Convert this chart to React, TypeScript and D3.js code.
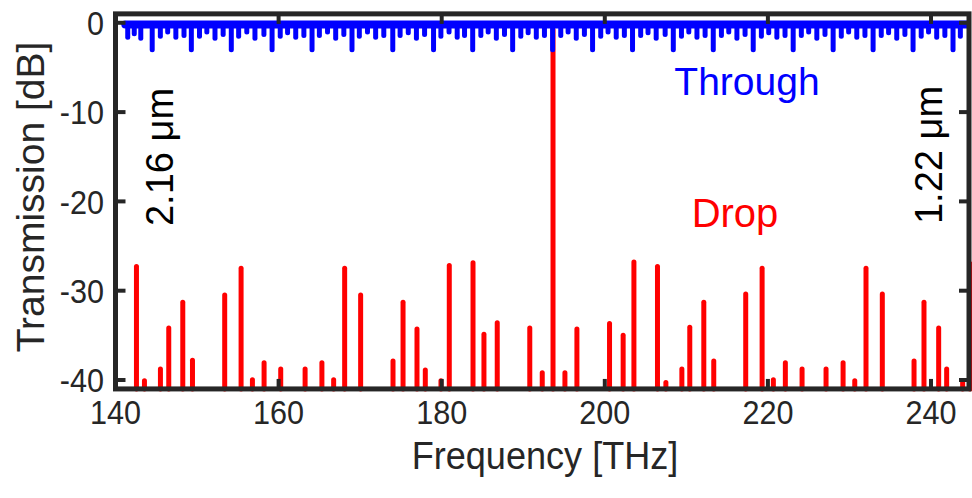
import React from "react";
import * as d3 from "d3";

// ---- data ----
const xTicks = [140, 160, 180, 200, 220, 240];
const yTicks = [0, -10, -20, -30, -40];

// Drop port: resonance frequency [THz] and peak transmission [dB]
const dropFreq = [
  142.57, 143.55, 145.51, 146.53, 148.25, 149.44, 153.39, 155.4, 156.79, 158.22,
  160.26, 163.25, 165.31, 166.75, 168.1, 170.06, 174.03, 175.26, 176.97, 177.99,
  179.91, 180.93, 183.84, 185.18, 186.81, 190.8, 192.33, 193.65, 195.11, 196.58,
  200.58, 202.25, 203.57, 206.46, 207.49, 209.45, 210.42, 212.14, 213.36, 217.28,
  219.29, 220.67, 222.14, 224.19, 227.13, 229.22, 230.65, 232.03, 234.03, 237.92,
  239.14, 240.94, 241.92, 243.88, 244.78,
];
const dropDb = [
  -27.0, -39.8, -38.5, -33.9, -31.0, -37.5, -30.2, -27.2, -39.7, -37.8,
  -38.5, -38.5, -37.8, -39.7, -27.2, -30.2, -37.6, -31.0, -34.0, -38.6,
  -39.8, -26.9, -26.6, -34.6, -33.3, -33.9, -38.9, -0.5, -38.9, -34.0,
  -33.4, -34.7, -26.5, -27.0, -40.0, -38.5, -33.8, -31.0, -37.6, -30.1,
  -27.2, -39.7, -37.8, -38.5, -38.5, -37.8, -39.8, -27.2, -30.1, -37.6,
  -31.0, -33.9, -38.5, -39.8, -26.7,
];

// Through port: dip frequency [THz] and dip depth [dB]
const throughFreq = [
  141.5, 142.3, 143.1, 144.5, 145.5, 146.4, 147.4, 148.4,
  149.3, 150.3, 151.2, 152.2, 153.2, 154.2, 155.1, 156.1, 157.1, 158.2,
  159.2, 160.2, 161.1, 162.1, 163.1, 164.1, 165.0, 166.0, 167.0, 168.0,
  169.0, 169.9, 170.9, 171.9, 172.9, 174.0, 174.9, 175.9, 176.9, 177.9,
  179.0, 179.9, 180.9, 181.9, 182.8, 183.8, 184.8, 185.7, 186.7, 187.7,
  188.7, 189.7, 190.6, 191.6, 192.6, 193.6, 194.6, 195.5, 196.5, 197.5,
  198.5, 199.5, 200.4, 201.4, 202.4, 203.4, 204.4, 205.3, 206.3, 207.4,
  208.4, 209.4, 210.3, 211.3, 212.3, 213.3, 214.3, 215.2, 216.2, 217.2,
  218.2, 219.2, 220.1, 221.1, 222.1, 223.1, 224.1, 225.0, 226.0, 227.0,
  228.0, 229.0, 229.9, 230.9, 231.9, 232.9, 233.9, 234.8, 235.8, 236.8,
  237.8, 238.8, 239.7, 240.7, 241.7, 242.7, 243.6,
];
const throughDb = [
  -1.9, -1.5, -2.0, -3.3, -1.8, -1.3, -1.9, -1.7,
  -3.3, -1.8, -1.3, -2.0, -1.6, -3.3, -1.8, -1.3, -2.0, -1.6,
  -3.3, -1.8, -1.4, -1.9, -1.7, -3.3, -1.7, -1.3, -2.0, -1.6,
  -3.3, -1.8, -1.3, -1.9, -1.7, -3.3, -1.7, -1.4, -2.0, -1.6,
  -3.3, -1.8, -1.3, -1.9, -1.7, -3.3, -1.7, -1.3, -2.0, -1.6,
  -3.3, -1.8, -1.4, -1.9, -1.7, -3.3, -1.7, -1.3, -2.0, -1.6,
  -3.3, -1.8, -1.3, -1.9, -1.7, -3.3, -1.7, -1.4, -2.0, -1.6,
  -3.3, -1.8, -1.3, -1.9, -1.7, -3.3, -1.7, -1.3, -2.0, -1.6,
  -3.3, -1.8, -1.4, -1.9, -1.7, -3.3, -1.7, -1.3, -2.0, -1.6,
  -3.3, -1.8, -1.3, -1.9, -1.7, -3.3, -1.7, -1.4, -2.0, -1.6,
  -3.3, -1.8, -1.3, -1.9, -1.7, -3.3, -1.8,
];
const throughStart = 141.2;
const throughEnd = 244.4;

const W = 972;
const H = 498;
const FONT = "Arial, 'Liberation Sans', Helvetica, sans-serif";
const AXIS = "#262626";
const BLUE = "#0000ff";
const RED = "#ff0000";

export default function App() {
  const x = d3.scaleLinear().domain([140, 240]).range([115.5, 931]);
  const y = d3.scaleLinear().domain([-40, 0]).range([380, 22.8]);
  const x0 = x(140);
  const x1 = x(244.66);
  const yTop = y(1);
  const yBot = y(-41);
  const tickLen = 10;
  const base = y(-0.2);

  return (
    <svg
      width={W}
      height={H}
      style={{ position: "absolute", left: 0, top: 0, background: "#fff" }}
      fontFamily={FONT}
    >
      {/* drop port bars */}
      <g stroke={RED} strokeWidth={5} strokeLinecap="round">
        {dropFreq.map((f, i) => (
          <line key={i} x1={x(f)} x2={x(f)} y1={yBot} y2={y(dropDb[i]) + 2.5} />
        ))}
      </g>
      {/* through port */}
      <g stroke={BLUE} strokeLinecap="round">
        <line x1={x(throughStart)} x2={x(throughEnd)} y1={base} y2={base} strokeWidth={8} />
        {throughFreq.map((f, i) => (
          <line key={i} x1={x(f)} x2={x(f)} y1={base} y2={y(throughDb[i]) - 2.5} strokeWidth={5} />
        ))}
      </g>

      {/* frame */}
      <rect
        x={x0}
        y={yTop}
        width={x1 - x0}
        height={yBot - yTop}
        fill="none"
        stroke={AXIS}
        strokeWidth={5}
      />
      {/* ticks */}
      <g stroke={AXIS} strokeWidth={4}>
        {xTicks.map((t) => (
          <g key={t}>
            <line x1={x(t)} x2={x(t)} y1={yBot} y2={yBot - tickLen} />
            <line x1={x(t)} x2={x(t)} y1={yTop} y2={yTop + tickLen} />
          </g>
        ))}
        {yTicks.map((t) => (
          <g key={t}>
            <line x1={x0} x2={x0 + tickLen} y1={y(t)} y2={y(t)} />
            <line x1={x1} x2={x1 - tickLen} y1={y(t)} y2={y(t)} />
          </g>
        ))}
      </g>
      {/* tick labels */}
      <g fill={AXIS} fontSize={34}>
        {xTicks.map((t) => (
          <text key={t} transform={`translate(${x(t)}, 424) scale(0.9, 1)`} textAnchor="middle">
            {t}
          </text>
        ))}
        {yTicks.map((t) => (
          <text
            key={t}
            transform={`translate(104, ${y(t)}) scale(0.9, 1)`}
            dy="0.36em"
            textAnchor="end"
          >
            {t}
          </text>
        ))}
      </g>
      {/* axis titles */}
      <text
        transform="translate(545, 469) scale(0.95, 1)"
        textAnchor="middle"
        fontSize={38}
        fill={AXIS}
      >
        Frequency [THz]
      </text>
      <text
        transform="translate(44, 197) rotate(-90)"
        textAnchor="middle"
        fontSize={39}
        fill={AXIS}
      >
        Transmission [dB]
      </text>

      {/* annotations */}
      <text x={747} y={95} textAnchor="middle" fontSize={39} fill={BLUE}>
        Through
      </text>
      <text x={735} y={227} textAnchor="middle" fontSize={40} fill={RED}>
        Drop
      </text>
      <text
        transform="translate(173, 157) rotate(-90)"
        textAnchor="middle"
        fontSize={38}
        fill="#000"
      >
        2.16 μm
      </text>
      <text
        transform="translate(942, 155) rotate(-90)"
        textAnchor="middle"
        fontSize={38}
        fill="#000"
      >
        1.22 μm
      </text>
    </svg>
  );
}
